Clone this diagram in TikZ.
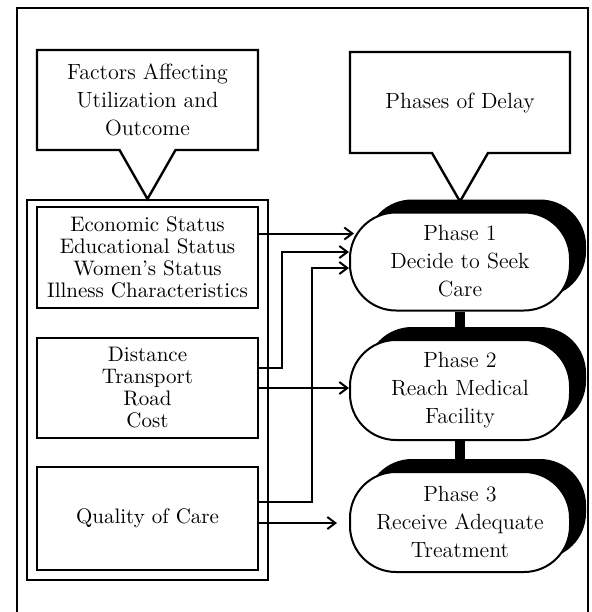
\documentclass[tikz,border=0pt]{standalone}
\usetikzlibrary{arrows.meta,shapes.callouts,shadows}

\begin{document}
\begin{tikzpicture}[x=0.5pt,y=-0.5pt,>={Straight Barb[length=4pt,width=6pt]},
  every node/.style={align=center,inner sep=0pt},
  factor/.style={draw,line width=1.2pt,minimum width=110.5pt,minimum height=50.5pt,
    font=\fontsize{10.5}{11}\selectfont},
  phase/.style={draw,fill=white,line width=1pt,rounded corners=23pt,
    minimum width=110pt,minimum height=49pt,font=\fontsize{11}{14}\selectfont,
    general shadow={fill=black,shadow xshift=8pt,shadow yshift=6.5pt}},
  note/.style={rectangle callout,draw,line width=1.2pt,callout pointer width=28pt,
    minimum width=110.5pt,minimum height=50pt,font=\fontsize{11}{14}\selectfont},
  link/.style={->,line width=1pt}]
  \useasboundingbox (0,0) rectangle (591,612);
  \draw[line width=1pt] (17,612) -- (17,8) -- (588,8) -- (588,612);

  % factor boxes
  \node[factor] (econ) at (147.5,257.5)
    {Economic Status\\Educational Status\\Women's Status\\Illness Characteristics};
  \node[factor,minimum height=50pt] (dist) at (147.5,388)
    {Distance\\Transport\\Road\\Cost};
  \node[factor,minimum height=51.5pt] (qual) at (147.5,518.5) {Quality of Care};
  \node[draw,line width=1pt,minimum width=120.5pt,minimum height=190pt] (group)
    at (147.5,390) {};
  \node[note,callout absolute pointer={(group.north)}] (factors) at (147.5,100)
    {Factors Affecting\\Utilization and\\Outcome};

  % phases
  \node[phase] (ph1) at (460,261.5) {Phase 1\\Decide to Seek\\Care};
  \node[phase,minimum height=50pt] (ph2) at (460,390) {Phase 2\\Reach Medical\\Facility};
  \node[phase,minimum height=50pt] (ph3) at (460,522) {Phase 3\\Receive Adequate\\Treatment};
  \draw[line width=5pt] (ph1.south) -- (ph2.north);
  \draw[line width=5pt] (ph2.south) -- (ph3.north);
  \node[note,minimum width=110pt,minimum height=50.5pt,
    callout absolute pointer={([yshift=5pt]ph1.north)}] (delay) at (460,102.5)
    {Phases of Delay};

  % arrows
  \draw[link] ([yshift=12pt]econ.east) -- ([yshift=12pt,xshift=2.5pt]econ.east -| ph1.west);
  \draw[link] ([yshift=10pt]dist.east) -- ++(23,0) |- ([yshift=4.75pt]ph1.west);
  \draw[link] (dist.east) -- (dist.east -| ph2.west);
  \draw[link] ([yshift=8.25pt]qual.east) -- ++(53,0) |- ([yshift=-3.25pt]ph1.west);
  \draw[link] ([yshift=-2.25pt]qual.east) -- ([yshift=-2.25pt,xshift=-6pt]qual.east -| ph3.west);
\end{tikzpicture}
\end{document}
